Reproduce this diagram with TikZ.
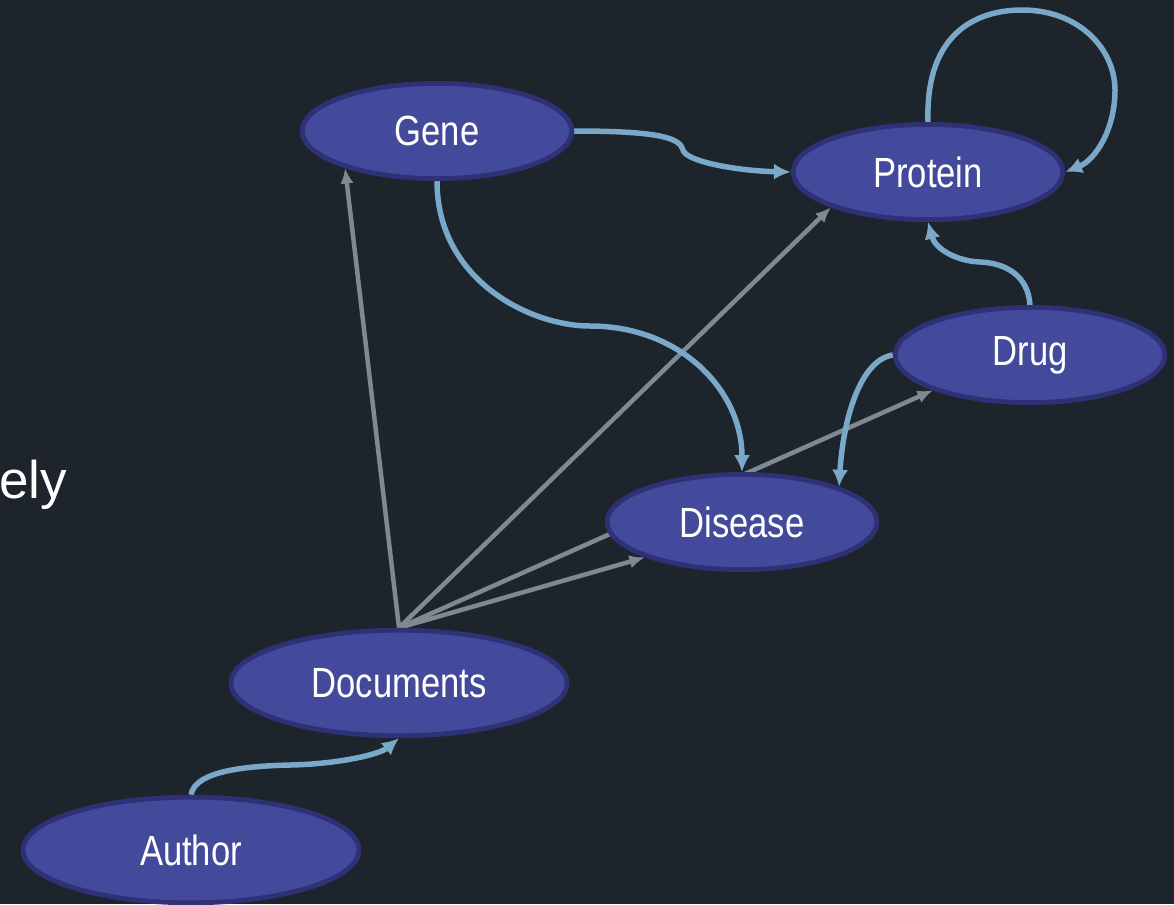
\documentclass[tikz,border=0pt]{standalone}
\usepackage{fontspec}
\setmainfont{Liberation Sans}
\newfontfamily\narrowfont[FakeStretch=0.82]{Liberation Sans}
\usepackage{tikz}
\usetikzlibrary{shapes,arrows.meta,backgrounds}
\definecolor{bgcol}{HTML}{1E242B}
\definecolor{nodefill}{HTML}{444A9B}
\definecolor{nodeline}{HTML}{2E3175}
\definecolor{bluelink}{HTML}{79A8C8}
\definecolor{greylink}{HTML}{7D8A92}
\tikzstyle{entity}=[ellipse,draw=nodeline,fill=nodefill,line width=3.4pt,text=white,inner sep=0pt,font=\narrowfont\fontsize{30}{36}\selectfont]
\tikzstyle{bigentity}=[entity,minimum width=8.4cm,minimum height=2.64cm]
\tikzstyle{smallentity}=[entity,minimum width=6.74cm,minimum height=2.38cm]
\tikzstyle{docedge} = [draw,line width=3.2pt,greylink,-{Latex[length=11pt,width=9.5pt]}]
\tikzstyle{linkedge} = [draw,line width=3.9pt,bluelink,-{Latex[length=12pt,width=11.5pt]}]

\begin{document}
\begin{tikzpicture}[x=0.025cm,y=-0.025cm]

  \useasboundingbox (0,0) rectangle (1174,904);

   \foreach \x/\y/\name/\label in {437/131/gene/Gene, 928/172/protein/Protein, 1030/355/drug/Drug, 742/522/disease/Disease}
          \node[smallentity] (\name) at (\x,\y) {\label};

   \foreach \x/\y/\name/\label in {399/683/docs/Documents, 191/850/author/Author}
          \node[bigentity] (\name) at (\x,\y) {\label};

   \node[anchor=base west,inner sep=0pt,text=white,font=\fontsize{37.7}{45}\selectfont] (ely) at (-1,498) {ely};

\begin{pgfonlayer}{background}
  \fill[bgcol] (0,0) rectangle (1174,904);

  \foreach \source/ \dest in {docs.north/gene.202, docs.north/protein.200, docs.north/disease.200, docs.north/drug.200}
         \path[docedge] (\source) -- (\dest);

%links
  \path[linkedge] (gene.east) .. controls (660,131) and (680,138) .. (683,150) .. controls (686,162) and (740,171) .. (protein.west);
  \path[linkedge] (gene.south) .. controls (437,280) and (530,326) .. (590,326) .. controls (680,326) and (742,390) .. (disease.north);
  \path[linkedge] (protein.north) .. controls (925,30) and (980,10) .. (1022,10) .. controls (1080,10) and (1115,50) .. (1115,90) .. controls (1115,130) and (1095,160) .. (protein.east);
  \path[linkedge] (drug.north) .. controls (1028,275) and (1005,263) .. (980,262) .. controls (955,261) and (935,248) .. (protein.south);
  \path[linkedge] (drug.west) .. controls (860,360) and (843,420) .. (disease.20);
  \path[linkedge] (author.north) .. controls (195,770) and (250,766) .. (290,765) .. controls (340,764) and (380,754) .. (docs.south);
\end{pgfonlayer}

\end{tikzpicture}
\end{document}
